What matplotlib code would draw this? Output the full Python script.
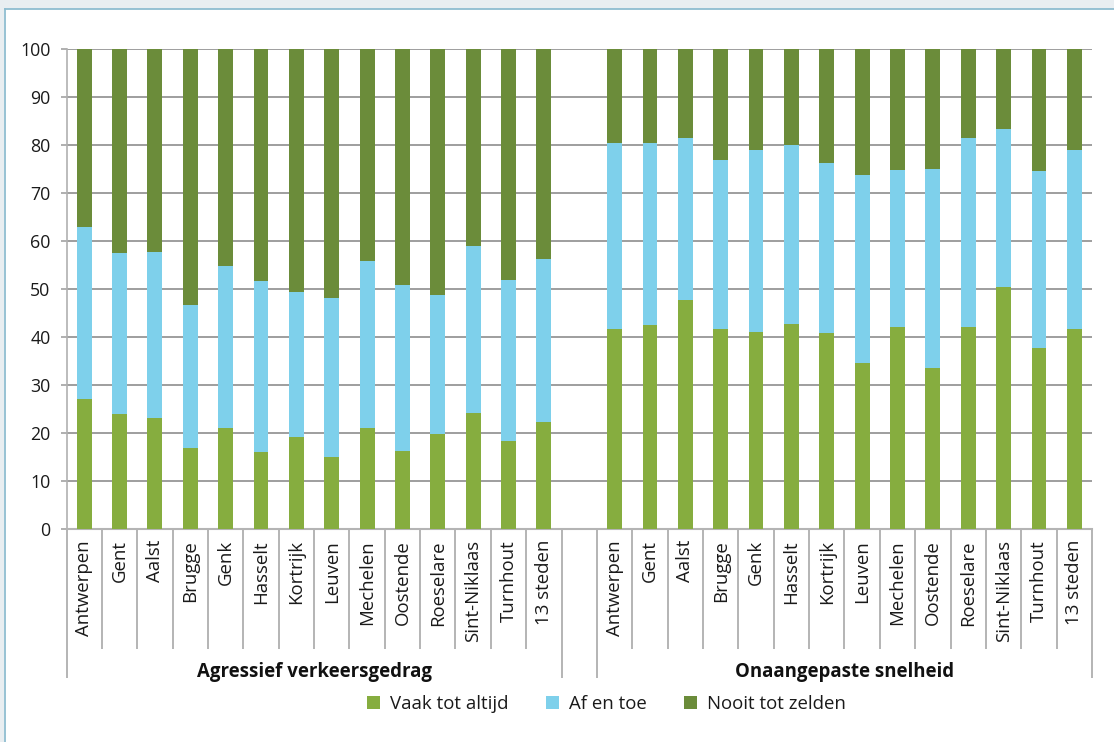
import matplotlib
matplotlib.use("Agg")
import matplotlib.pyplot as plt
from matplotlib.patches import Patch, Rectangle
from matplotlib.lines import Line2D
import numpy as np

plt.rcParams['font.family'] = ['Open Sans', 'DejaVu Sans']

cities = ["Antwerpen", "Gent", "Aalst", "Brugge", "Genk", "Hasselt", "Kortrijk",
          "Leuven", "Mechelen", "Oostende", "Roeselare", "Sint-Niklaas", "Turnhout", "13 steden"]
groups = ["Agressief verkeersgedrag", "Onaangepaste snelheid"]
series = ["Vaak tot altijd", "Af en toe", "Nooit tot zelden"]

agr_vaak = [27.0, 24.0, 23.1, 16.8, 21.0, 16.0, 19.1, 15.0, 21.0, 16.2, 19.7, 24.1, 18.3, 22.3]
agr_af = [35.9, 33.5, 34.6, 29.9, 33.8, 35.7, 30.3, 33.1, 34.8, 34.6, 29.0, 34.9, 33.6, 34.0]
agr_nooit = [37.1, 42.5, 42.3, 53.3, 45.2, 48.3, 50.6, 51.9, 44.2, 49.2, 51.3, 41.0, 48.1, 43.7]

snel_vaak = [41.7, 42.5, 47.7, 41.7, 41.0, 42.7, 40.8, 34.6, 42.1, 33.5, 42.1, 50.4, 37.7, 41.7]
snel_af = [38.8, 38.0, 33.8, 35.2, 38.0, 37.3, 35.5, 39.2, 32.7, 41.5, 39.4, 33.0, 36.9, 37.3]
snel_nooit = [19.5, 19.5, 18.5, 23.1, 21.0, 20.0, 23.7, 26.2, 25.2, 25.0, 18.5, 16.6, 25.4, 21.0]

colors = ["#86ad3f", "#7ed0eb", "#6b8c3a"]

fig = plt.figure(figsize=(11.14, 7.42), dpi=100)
fig.patch.set_facecolor("white")

# outer frame strips
fig.patches.append(Rectangle((0, 1 - 8.5 / 742), 1, 8.5 / 742, transform=fig.transFigure,
                             facecolor="#e9eef1", edgecolor="none", zorder=0))
fig.patches.append(Rectangle((0, 0), 4.2 / 1114, 1, transform=fig.transFigure,
                             facecolor="#e9eef1", edgecolor="none", zorder=0))
fig.lines.append(Line2D([4.5 / 1114, 1], [1 - 9 / 742, 1 - 9 / 742], transform=fig.transFigure,
                        color="#8fbdd0", lw=1.3))
fig.lines.append(Line2D([4.8 / 1114, 4.8 / 1114], [0, 1 - 9 / 742], transform=fig.transFigure,
                        color="#8fbdd0", lw=1.3))

ax = fig.add_axes([66.5 / 1114, 1 - 529 / 742, (1092 - 66.5) / 1114, 480 / 742])

n = len(cities)
x1 = np.arange(n)
x2 = np.arange(n) + n + 1
w = 0.42

for xs, data in ((x1, (agr_vaak, agr_af, agr_nooit)), (x2, (snel_vaak, snel_af, snel_nooit))):
    bottom = np.zeros(n)
    for vals, c in zip(data, colors):
        ax.bar(xs, vals, w, bottom=bottom, color=c, zorder=3)
        bottom = bottom + np.array(vals)

ax.set_xlim(-0.5, 2 * n + 0.5)
ax.set_ylim(0, 100)
ax.set_yticks(np.arange(0, 101, 10))
ax.yaxis.grid(True, color="#8e8e8e", lw=1.2)
ax.set_axisbelow(True)
for s in ("top", "right"):
    ax.spines[s].set_visible(False)
ax.spines["left"].set_color("#b0b0b0")
ax.spines["left"].set_linewidth(1.2)
ax.spines["bottom"].set_color("#b4b4b4")
ax.spines["bottom"].set_linewidth(1.5)
ax.tick_params(axis="y", length=4, width=1.1, color="#9a9a9a", pad=7.5, labelsize=12.8,
               labelcolor="#1a1a1a")

ax.set_xticks(np.concatenate([x1, x2]))
ax.set_xticklabels(cities + cities, rotation=90, va="top", ha="center", fontsize=13.4,
                   color="#1a1a1a")
ax.tick_params(axis="x", length=0, pad=8)

trans = ax.get_xaxis_transform()
short = [i + 0.5 for i in range(n - 1)] + [n + 1 + i + 0.5 for i in range(n - 1)]
long_ = [-0.5, n - 0.5, n + 0.5, 2 * n + 0.5]
ax.vlines(short, -0.25, 0, transform=trans, clip_on=False, color="#a8a8a8", lw=1.2)
ax.vlines(long_, -0.31, 0, transform=trans, clip_on=False, color="#a8a8a8", lw=1.2)

ax.text(x1.mean(), -0.297, groups[0], transform=trans, ha="center", va="center",
        fontsize=13.4, fontweight="bold", color="#111111")
ax.text(x2.mean(), -0.297, groups[1], transform=trans, ha="center", va="center",
        fontsize=13.4, fontweight="bold", color="#111111")

handles = [Patch(facecolor=c, edgecolor="none", label=l) for c, l in zip(colors, series)]
fig.legend(handles=handles, loc="center", bbox_to_anchor=(0.5446, 1 - 704 / 742), ncol=3,
           frameon=False, fontsize=13.4, handlelength=0.7, handleheight=0.7,
           handletextpad=0.55, columnspacing=2.0, labelcolor="#1a1a1a")

fig.savefig("out.png", dpi=100, facecolor="white")
